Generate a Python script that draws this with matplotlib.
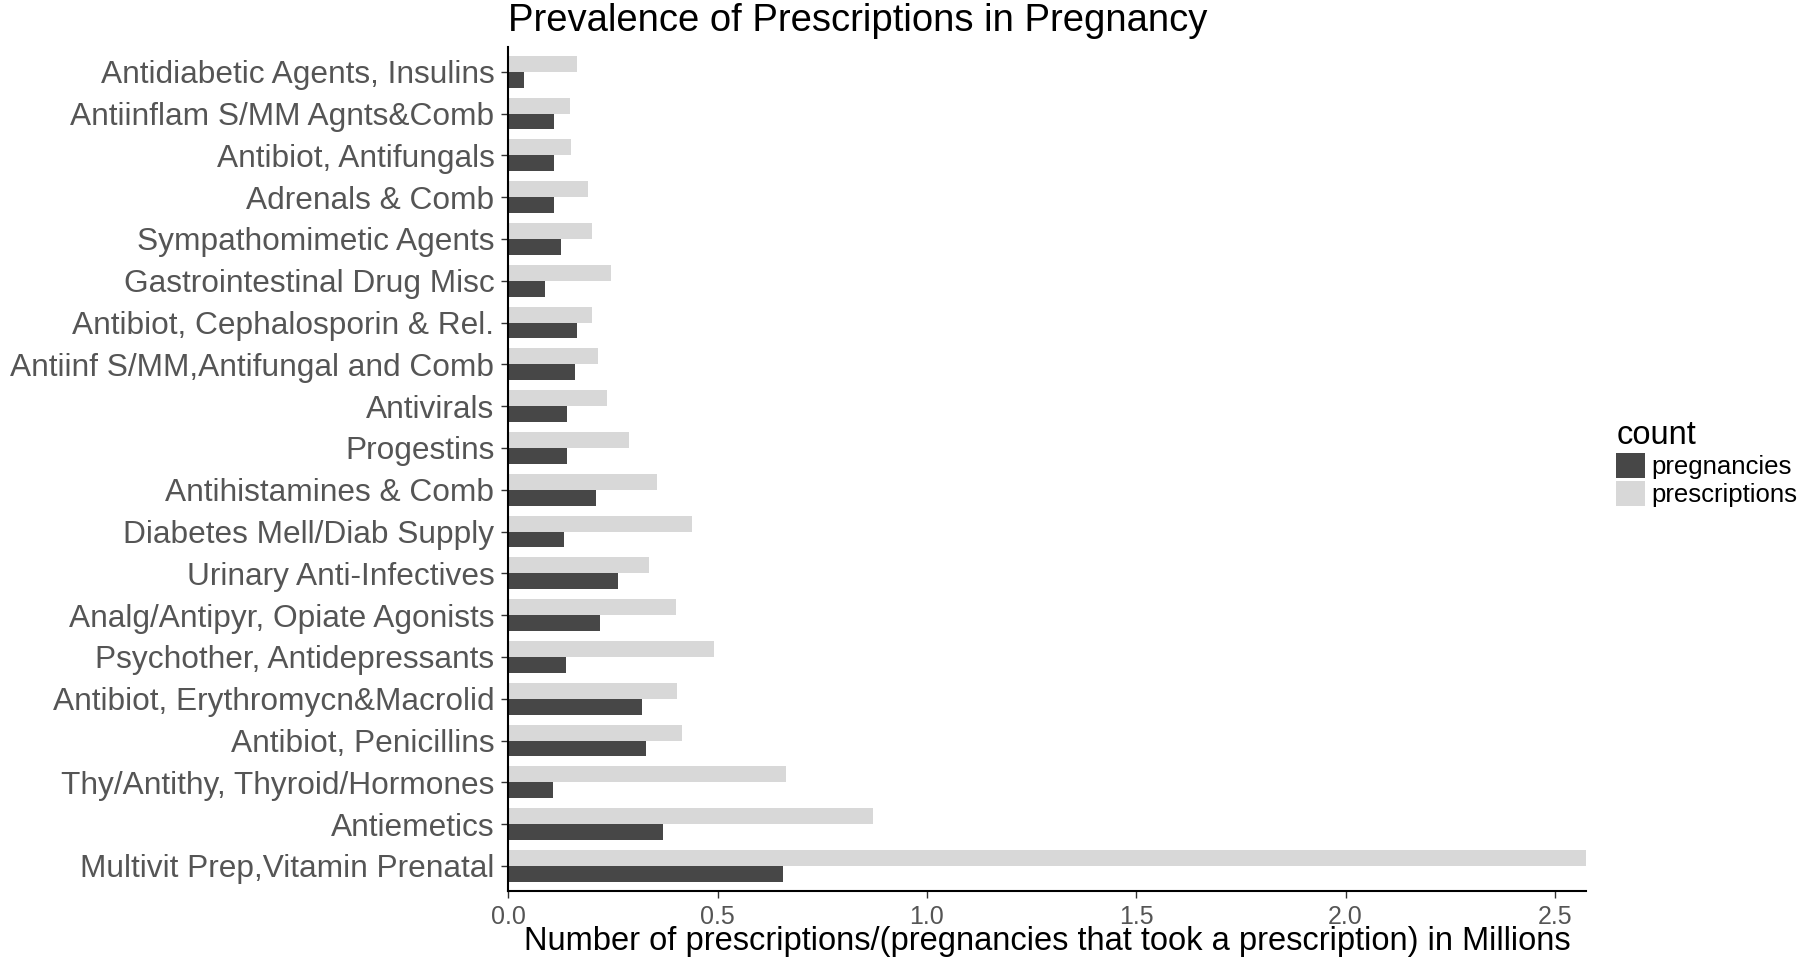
import numpy as np
import matplotlib
matplotlib.use("Agg")
import matplotlib.pyplot as plt
from matplotlib.patches import Patch

plt.rcParams['font.family'] = ['Liberation Sans', 'DejaVu Sans']

# categories listed top -> bottom as in the chart
drug_classes = [
    "Antidiabetic Agents, Insulins",
    "Antiinflam S/MM Agnts&Comb",
    "Antibiot, Antifungals",
    "Adrenals & Comb",
    "Sympathomimetic Agents",
    "Gastrointestinal Drug Misc",
    "Antibiot, Cephalosporin & Rel.",
    "Antiinf S/MM,Antifungal and Comb",
    "Antivirals",
    "Progestins",
    "Antihistamines & Comb",
    "Diabetes Mell/Diab Supply",
    "Urinary Anti-Infectives",
    "Analg/Antipyr, Opiate Agonists",
    "Psychother, Antidepressants",
    "Antibiot, Erythromycn&Macrolid",
    "Antibiot, Penicillins",
    "Thy/Antithy, Thyroid/Hormones",
    "Antiemetics",
    "Multivit Prep,Vitamin Prenatal",
]
prescriptions = [0.165, 0.148, 0.149, 0.191, 0.200, 0.245, 0.200, 0.215, 0.236, 0.289,
                 0.356, 0.438, 0.337, 0.400, 0.491, 0.404, 0.415, 0.663, 0.872, 2.574]
pregnancies = [0.037, 0.109, 0.110, 0.108, 0.125, 0.088, 0.165, 0.160, 0.140, 0.141,
               0.210, 0.133, 0.262, 0.218, 0.138, 0.320, 0.330, 0.107, 0.370, 0.656]

dark = "#474747"
light = "#d8d8d8"
grey_txt = "#555555"

fig = plt.figure(figsize=(18, 9.6), dpi=100)
ax = fig.add_axes([0.2824, 0.0719, 0.5986, 0.8795])

n = len(drug_classes)
ypos = np.arange(n, 0, -1)  # first category at top
w = 0.38
ax.barh(ypos + w / 2, prescriptions, height=w, color=light, label="prescriptions")
ax.barh(ypos - w / 2, pregnancies, height=w, color=dark, label="pregnancies")

ax.set_xlim(0, max(prescriptions))
ax.set_ylim(0.4, n + 0.6)
ax.set_yticks(ypos)
ax.set_yticklabels(drug_classes, fontsize=22.8, color=grey_txt)
ax.set_xticks([0.0, 0.5, 1.0, 1.5, 2.0, 2.5])
ax.set_xticklabels(["0.0", "0.5", "1.0", "1.5", "2.0", "2.5"], fontsize=18, color=grey_txt)
ax.tick_params(axis='both', length=5, width=1, color="#333333", pad=5)

for s in ["top", "right"]:
    ax.spines[s].set_visible(False)
for s in ["left", "bottom"]:
    ax.spines[s].set_linewidth(1.5)
    ax.spines[s].set_color("black")

fig.text(0.2824, 0.968, "Prevalence of Prescriptions in Pregnancy", fontsize=27.5,
         ha="left", va="baseline", color="black")
fig.text(0.5816, 0.0104,
         "Number of prescriptions/(pregnancies that took a prescription) in Millions",
         fontsize=23.5, ha="center", va="baseline", color="black")

handles = [Patch(facecolor=dark, edgecolor="none"), Patch(facecolor=light, edgecolor="none")]
leg = fig.legend(handles, ["pregnancies", "prescriptions"], title="count",
                 loc="upper left", bbox_to_anchor=(0.898, 0.562), frameon=False,
                 fontsize=18.5, title_fontsize=23.5, handlelength=1.11, handleheight=1.15,
                 handletextpad=0.25, labelspacing=0.05, borderpad=0, borderaxespad=0,
                 alignment="left")

fig.savefig("out.png", dpi=100)
